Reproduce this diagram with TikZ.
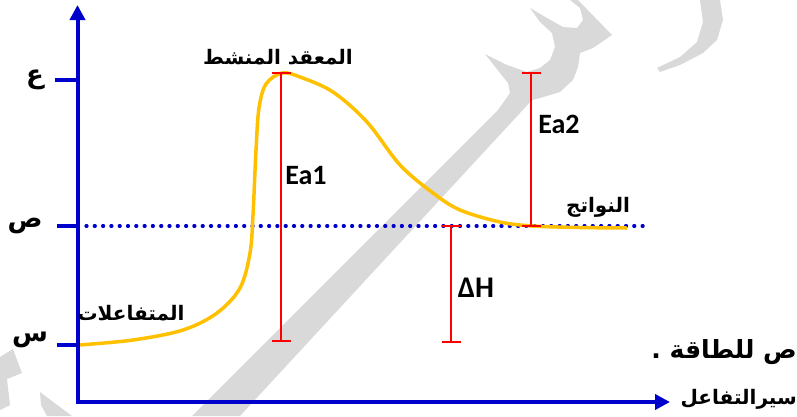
\documentclass[tikz,border=0pt]{standalone}
\usepackage{fontspec}
\setmainfont{Carlito}
\newfontfamily\ar[Script=Arabic]{DejaVu Sans}
\TeXXeTstate=1
\usetikzlibrary{arrows.meta}
\definecolor{axblue}{RGB}{0,0,204}
\definecolor{curvey}{RGB}{255,192,0}
\definecolor{wmgray}{RGB}{217,217,217}
\tikzset{axhead/.tip={Triangle[length=15pt,width=15pt]}}
\begin{document}
\begin{tikzpicture}[x=1pt,y=-1pt,
  axis/.style={axblue, line width=4pt},
  ealine/.style={red, line width=2pt},
  arlbl/.style={font=\ar\bfseries\fontsize{20}{24}\selectfont, inner sep=0pt},
  arbig/.style={font=\ar\bfseries\fontsize{26}{30}\selectfont, inner sep=0pt},
  latlbl/.style={font=\bfseries\fontsize{28}{30}\selectfont, inner sep=0pt},
  wm/.style={fill=wmgray, draw=none}
]
\useasboundingbox (0,0) rectangle (797,416);
\clip (0,0) rectangle (797,416);
% watermark
\path[wm] (192,416) -- (498,110) -- (510,93) -- (508,83) -- (500,73) -- (485,54)
  -- (507,65) -- (527,72) -- (540,68) -- (550,60) -- (555,47) -- (552,33) -- (540,22) -- (530,8)
  -- (547,18) -- (563,27) -- (577,28) -- (583,20) -- (580,8) -- (570,0) -- (578,0)
  -- (612,35) -- (593,48) -- (580,53) -- (578,67) -- (573,80) -- (560,92) -- (540,98) -- (532,100)
  -- (240,416) -- cycle;
\path[wm] (700,0) -- (720,0) -- (723,20) -- (717,40) -- (703,53) -- (680,65) -- (660,72)
  -- (657,68) -- (680,57) -- (697,42) -- (703,22) -- cycle;
\path[wm] (0,357) -- (13,349) -- (22,373) -- (7,379) -- (10,405) -- (0,410) -- cycle;
\path[wm] (40,392) -- (72,416) -- (47,416) -- (41,405) -- cycle;

% coordinates
\coordinate (ytip) at (77.5,5);
\coordinate (orig) at (77.5,402);
\coordinate (xtip) at (670,402);
\coordinate (tE) at (55,80);   \coordinate (tEa) at (77.5,80);
\coordinate (tS) at (57,226);  \coordinate (tSa) at (77.5,226);
\coordinate (tR) at (57,345);  \coordinate (tRa) at (77.5,345);
\coordinate (dotstart) at (86,226);
\coordinate (dotend) at (645,226);

% dotted level line
\draw[axblue, line width=3.2pt, line cap=round, dash pattern=on 1pt off 7.3pt]
  (dotstart) -- (dotend);

% curve
\draw[curvey, line width=3.5pt] plot[smooth, tension=0.55] coordinates {
  (79,345) (133,340) (183,330) (217,313) (240,288) (250,253) (253,215) (256,150)
  (259,108) (266,84) (282,73) (300,77) (333,92) (367,122) (400,165) (433,193)
  (460,210) (500,222) (533,226) (580,227.5) (627,228)};

% axes
\draw[axis, axhead-axhead, line join=miter] (ytip) -- (orig) -- (xtip);
\draw[axis] (tE) -- (tEa);
\draw[axis] (tS) -- (tSa);
\draw[axis] (tR) -- (tRa);

% energy bars
\coordinate (e1t) at (281,73);  \coordinate (e1b) at (281,341);
\coordinate (e2t) at (531,73);  \coordinate (e2b) at (531,226);
\coordinate (dht) at (451,226); \coordinate (dhb) at (451,342);
\draw[ealine] (e1t) -- (e1b);
\draw[ealine] ([xshift=-9.5pt]e1t) -- ([xshift=9.5pt]e1t);
\draw[ealine] ([xshift=-9.5pt]e1b) -- ([xshift=9.5pt]e1b);
\draw[ealine] (e2t) -- (e2b);
\draw[ealine] ([xshift=-9.5pt]e2t) -- ([xshift=9.5pt]e2t);
\draw[ealine] ([xshift=-9.5pt]e2b) -- ([xshift=9.5pt]e2b);
\draw[ealine] (dht) -- (dhb);
\draw[ealine] ([xshift=-9.5pt]dht) -- ([xshift=9.5pt]dht);
\draw[ealine] ([xshift=-9.5pt]dhb) -- ([xshift=9.5pt]dhb);

% labels
\node[latlbl] (ea1) at (306,176) {Ea1};
\node[latlbl] (ea2) at (559,124) {Ea2};
\node[latlbl, font=\bfseries\fontsize{30}{32}\selectfont] (dh) at (476,288) {ΔH};
\node[arbig] (lE) at (35,80) {\beginR ع\endR};
\node[arbig] (lS) at (25,226) {\beginR ص\endR};
\node[arbig] (lR) at (30,340) {\beginR س\endR};
\node[arlbl] (complex) at (278,57) {\beginR المعقد المنشط\endR};
\node[arlbl] (react) at (131,313) {\beginR المتفاعلات\endR};
\node[arlbl] (prod) at (598,207) {\beginR النواتج\endR};
\node[arlbl, anchor=east, font=\ar\bfseries\fontsize{25}{28}\selectfont] (energy) at (797,352) {\beginR ص للطاقة .\endR};
\node[arlbl, anchor=east] (path) at (797,399) {\beginR سيرالتفاعل\endR};
\end{tikzpicture}
\end{document}
